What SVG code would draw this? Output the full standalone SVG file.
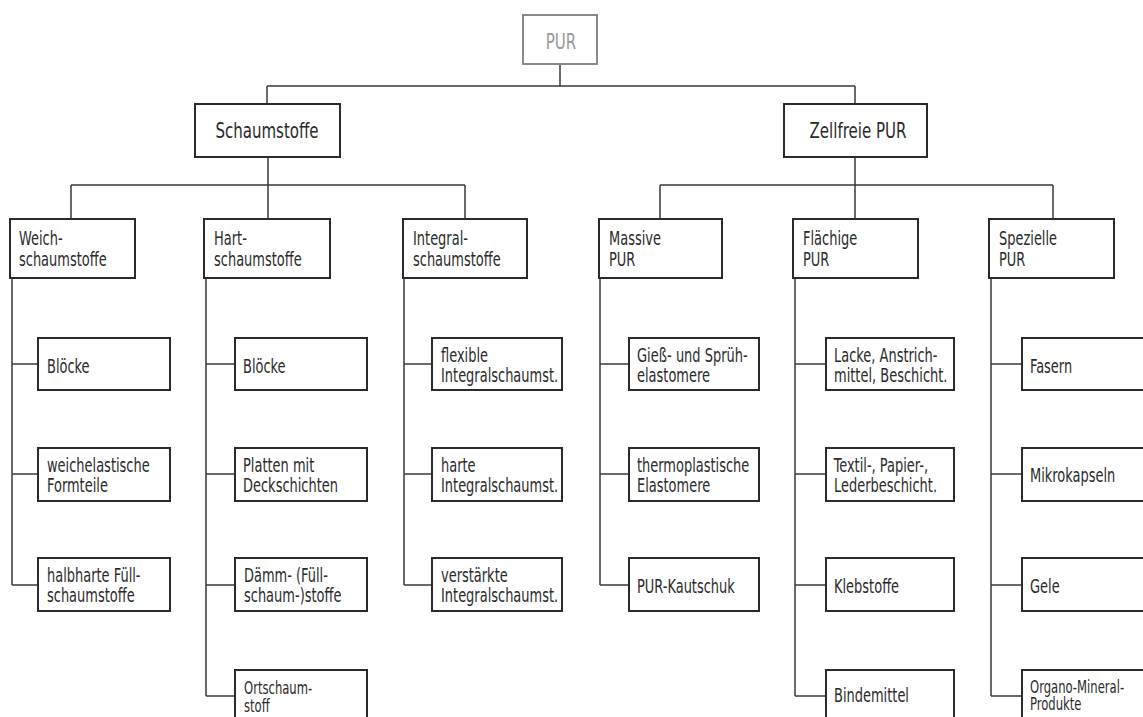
<svg xmlns="http://www.w3.org/2000/svg" width="1143" height="717" viewBox="0 0 1143 717">
<style>
  .bx{fill:#fff;stroke:#2b2b2b;stroke-width:2}
  .top{fill:#fff;stroke:#8a8a8a;stroke-width:2}
  .ln{fill:none;stroke:#3a3a3a;stroke-width:1.5}
  text{font-family:"DejaVu Sans Condensed","Liberation Sans",sans-serif;fill:#2b2b2b;font-size:19px;transform-box:fill-box;transform-origin:0 0;transform:scaleX(0.76)}
  .sm{font-size:17px}
  .t1{font-size:22px;text-anchor:middle;transform-origin:50% 50%}
  .t0{font-size:22px;text-anchor:middle;fill:#999;transform-origin:50% 50%}
</style>
<rect width="1143" height="717" fill="#fff"/>
<g id="connectors" class="ln">
  <path d="M560,64V86M267,86H855M267,86V104M855,86V104"/>
  <path d="M268,157V219M71,185H465M71,185V219M465,185V219"/>
  <path d="M855,157V219M660,185H1053M660,185V219M1053,185V219"/>
  <path d="M12,278V585M12,364H38M12,474H38M12,585H38"/>
  <path d="M206,278V696M206,364H235M206,474H235M206,585H235M206,696H235"/>
  <path d="M404,278V585M404,364H432M404,474H432M404,585H432"/>
  <path d="M600,278V585M600,364H629M600,474H629M600,585H629"/>
  <path d="M795,278V696M795,364H826M795,474H826M795,585H826M795,696H826"/>
  <path d="M991,278V696M991,364H1022M991,474H1022M991,585H1022M991,696H1022"/>
</g>
<g id="pur"><rect class="top" x="523" y="15" width="74" height="49"/><text class="t0" x="561" y="49">PUR</text></g>
<g id="schaumstoffe"><rect class="bx" x="195" y="104" width="145" height="53"/><text class="t1" x="267" y="138">Schaumstoffe</text></g>
<g id="zellfreie"><rect class="bx" x="784" y="104" width="143" height="53"/><text class="t1" x="858" y="138">Zellfreie PUR</text></g>

<g id="weich"><rect class="bx" x="10" y="219" width="125" height="59"/><text x="19" y="245">Weich-</text><text x="19" y="266">schaumstoffe</text></g>
<g id="hart"><rect class="bx" x="204" y="219" width="126" height="59"/><text x="214" y="245">Hart-</text><text x="214" y="266">schaumstoffe</text></g>
<g id="integral"><rect class="bx" x="403" y="219" width="124" height="59"/><text x="413" y="245">Integral-</text><text x="413" y="266">schaumstoffe</text></g>
<g id="massive"><rect class="bx" x="599" y="219" width="123" height="59"/><text x="609" y="245">Massive</text><text x="609" y="266">PUR</text></g>
<g id="flaechige"><rect class="bx" x="793" y="219" width="125" height="59"/><text x="803" y="245">Flächige</text><text x="803" y="266">PUR</text></g>
<g id="spezielle"><rect class="bx" x="989" y="219" width="125" height="59"/><text x="999" y="245">Spezielle</text><text x="999" y="266">PUR</text></g>

<g id="w1"><rect class="bx" x="38" y="338" width="132" height="52"/><text x="47" y="373">Blöcke</text></g>
<g id="w2"><rect class="bx" x="38" y="448" width="132" height="53"/><text x="47" y="472">weichelastische</text><text x="47" y="492">Formteile</text></g>
<g id="w3"><rect class="bx" x="38" y="558" width="132" height="53"/><text x="47" y="582">halbharte Füll-</text><text x="47" y="602">schaumstoffe</text></g>

<g id="h1"><rect class="bx" x="235" y="338" width="132" height="52"/><text x="243" y="373">Blöcke</text></g>
<g id="h2"><rect class="bx" x="235" y="448" width="132" height="53"/><text x="243" y="472">Platten mit</text><text x="243" y="492">Deckschichten</text></g>
<g id="h3"><rect class="bx" x="235" y="558" width="132" height="53"/><text x="244" y="582">Dämm- (Füll-</text><text x="244" y="602">schaum-)stoffe</text></g>
<g id="h4"><rect class="bx" x="235" y="670" width="132" height="60"/><text class="sm" x="244" y="694">Ortschaum-</text><text class="sm" x="244" y="712">stoff</text></g>

<g id="i1"><rect class="bx" x="432" y="338" width="130" height="52"/><text x="441" y="362">flexible</text><text x="441" y="382">Integralschaumst.</text></g>
<g id="i2"><rect class="bx" x="432" y="448" width="130" height="53"/><text x="441" y="472">harte</text><text x="441" y="492">Integralschaumst.</text></g>
<g id="i3"><rect class="bx" x="432" y="558" width="130" height="53"/><text x="441" y="582">verstärkte</text><text x="441" y="602">Integralschaumst.</text></g>

<g id="m1"><rect class="bx" x="629" y="338" width="130" height="52"/><text x="637" y="362">Gieß- und Sprüh-</text><text x="637" y="382">elastomere</text></g>
<g id="m2"><rect class="bx" x="629" y="448" width="130" height="53"/><text x="637" y="472">thermoplastische</text><text x="637" y="492">Elastomere</text></g>
<g id="m3"><rect class="bx" x="629" y="558" width="130" height="53"/><text x="637" y="593">PUR-Kautschuk</text></g>

<g id="f1"><rect class="bx" x="826" y="338" width="128" height="52"/><text x="834" y="362">Lacke, Anstrich-</text><text x="834" y="382">mittel, Beschicht.</text></g>
<g id="f2"><rect class="bx" x="826" y="448" width="128" height="53"/><text x="834" y="472">Textil-, Papier-,</text><text x="834" y="492">Lederbeschicht.</text></g>
<g id="f3"><rect class="bx" x="826" y="558" width="128" height="53"/><text x="834" y="593">Klebstoffe</text></g>
<g id="f4"><rect class="bx" x="826" y="670" width="128" height="60"/><text x="834" y="702">Bindemittel</text></g>

<g id="s1"><rect class="bx" x="1022" y="338" width="130" height="52"/><text x="1030" y="373">Fasern</text></g>
<g id="s2"><rect class="bx" x="1022" y="448" width="130" height="53"/><text x="1030" y="482">Mikrokapseln</text></g>
<g id="s3"><rect class="bx" x="1022" y="558" width="130" height="53"/><text x="1030" y="593">Gele</text></g>
<g id="s4"><rect class="bx" x="1022" y="670" width="130" height="60"/><text class="sm" x="1030" y="693">Organo-Mineral-</text><text class="sm" x="1030" y="710">Produkte</text></g>
</svg>
